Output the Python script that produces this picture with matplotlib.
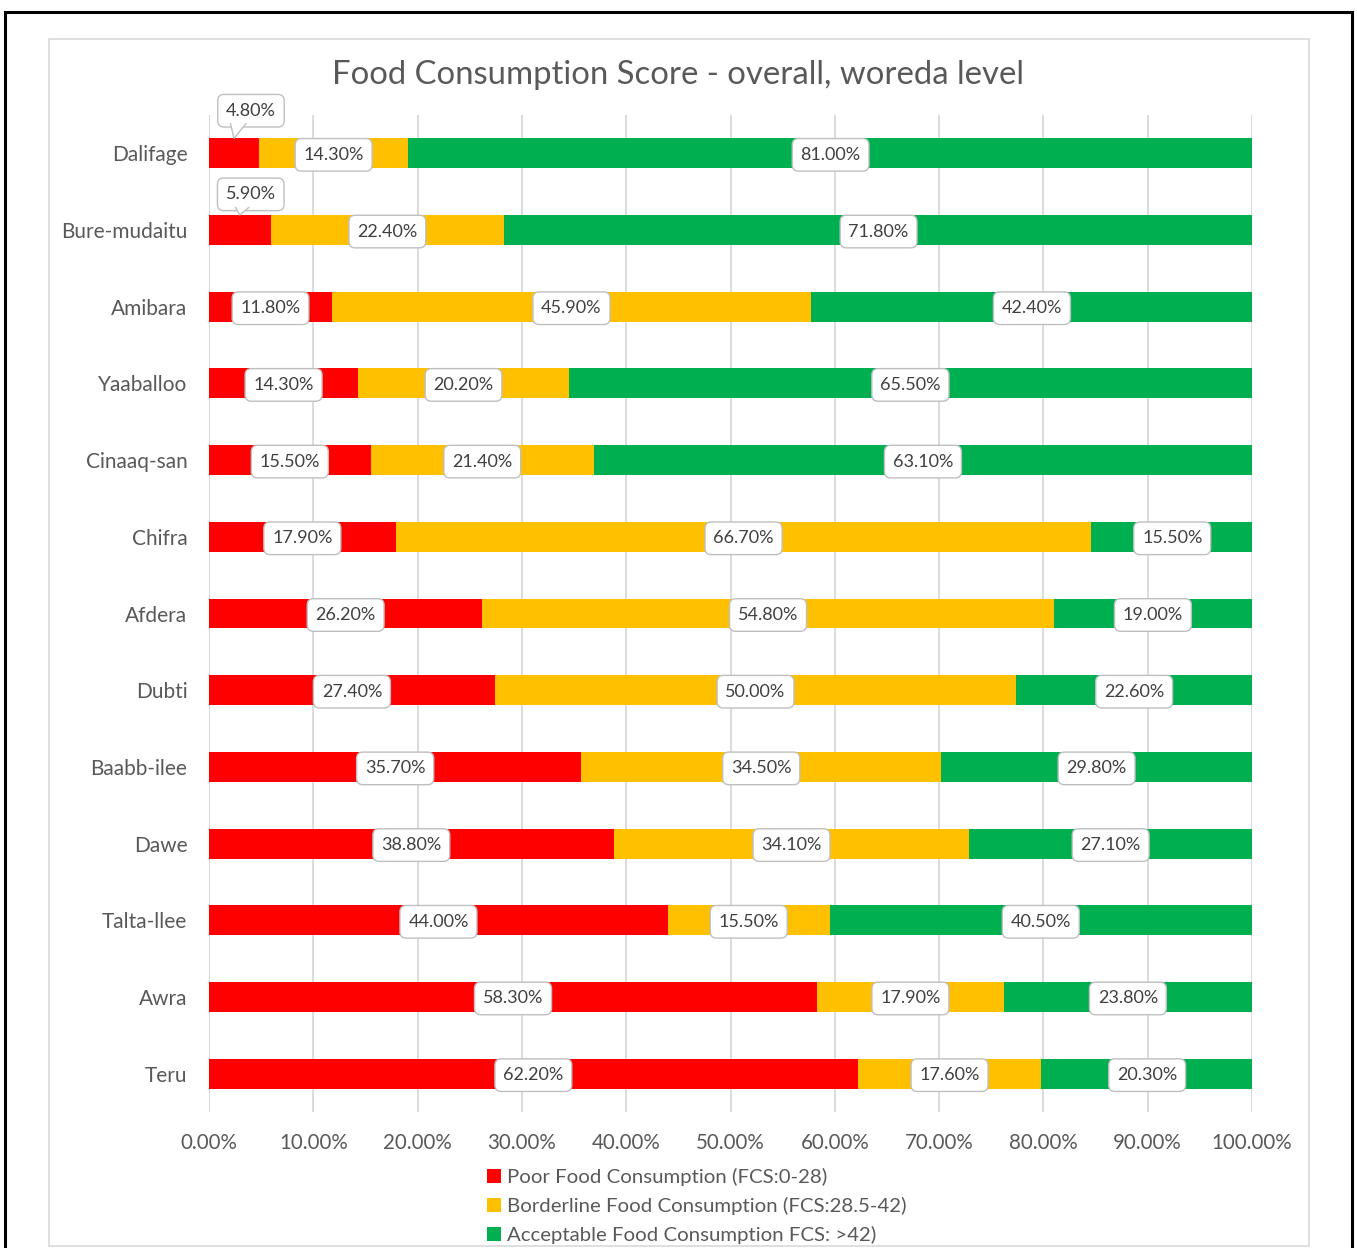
import matplotlib
matplotlib.use("Agg")
import matplotlib.pyplot as plt
from matplotlib.patches import Patch, Rectangle, Polygon
from matplotlib.lines import Line2D
from matplotlib.transforms import Affine2D, ScaledTranslation
import numpy as np

# Woredas, top to bottom
woredas = ["Dalifage", "Bure-mudaitu", "Amibara", "Yaaballoo", "Cinaaq-san",
           "Chifra", "Afdera", "Dubti", "Baabb-ilee", "Dawe", "Talta-llee",
           "Awra", "Teru"]

# Share of households (%) in each FCS group
poor = [4.8, 5.9, 11.8, 14.3, 15.5, 17.9, 26.2, 27.4, 35.7, 38.8, 44.0, 58.3, 62.2]
borderline = [14.3, 22.4, 45.9, 20.2, 21.4, 66.7, 54.8, 50.0, 34.5, 34.1, 15.5, 17.9, 17.6]
acceptable = [81.0, 71.8, 42.4, 65.5, 63.1, 15.5, 19.0, 22.6, 29.8, 27.1, 40.5, 23.8, 20.3]

series_names = ["Poor Food Consumption (FCS:0-28)",
                "Borderline Food Consumption (FCS:28.5-42)",
                "Acceptable Food Consumption FCS: >42)"]
colors = ["#FF0000", "#FFC000", "#00B050"]
xticks = [0, 10, 20, 30, 40, 50, 60, 70, 80, 90, 100]

plt.rcParams["font.family"] = ["Lato", "DejaVu Sans"]
TEXT = "#595959"
GRID = "#D9D9D9"
BOX_EDGE = "#BFBFBF"

fig = plt.figure(figsize=(13.57, 12.48), dpi=100)
ax = fig.add_axes([209 / 1357, 1 - 1112 / 1248, 1043 / 1357, 997 / 1248])

# frames around the figure and the chart area
fig.patches.append(Rectangle((5 / 1357, -0.02), 1347 / 1357, 1.0152 - 6 / 1248,
                             transform=fig.transFigure, fill=False,
                             ec="black", lw=2.2, zorder=0))
fig.patches.append(Rectangle((49 / 1357, 2 / 1248), 1260 / 1357, 1 - 41 / 1248,
                             transform=fig.transFigure, fill=False,
                             ec=GRID, lw=1.2, zorder=0))

y = np.arange(len(woredas))
h = 0.39
label_box = dict(boxstyle="round,pad=0.46,rounding_size=0.35",
                 fc="white", ec=BOX_EDGE, lw=1.0)
BOX_HALF = 10.5  # half height of a label box, in points


def points_at(x, yv):
    """Transform for vertices given in points, anchored at a data point."""
    return (Affine2D().scale(1 / 72) + fig.dpi_scale_trans
            + ScaledTranslation(x, yv, ax.transData))


def callout(x, yv, txt, off, base):
    """Label box above (x, yv) with a pointed tail down to that point."""
    ax.annotate(txt, xy=(x, yv), xytext=off, textcoords="offset points",
                ha="center", va="center_baseline", fontsize=13,
                color="#404040", bbox=label_box, zorder=4)
    by = off[1] - BOX_HALF
    tr = points_at(x, yv)
    ax.add_patch(Polygon([(0, 0), (base[0], by + 1.2), (base[1], by + 1.2)],
                         closed=True, fc="white", ec="none", transform=tr,
                         zorder=5, clip_on=False))
    ax.add_line(Line2D([base[0], 0, base[1]], [by, 0, by], color=BOX_EDGE,
                       lw=1.0, transform=tr, zorder=6, clip_on=False))


left = np.zeros(len(woredas))
for vals, col, name in zip([poor, borderline, acceptable], colors, series_names):
    vals = np.array(vals)
    ax.barh(y, vals, left=left, height=h, color=col, label=name, zorder=2)
    for i, (l, v) in enumerate(zip(left, vals)):
        cx = l + v / 2
        txt = f"{v:.2f}%"
        if v < 8:
            # narrow segment: callout above the bar
            if i == 0:
                callout(cx, i - h / 2, txt, (12.2, 21.0), (-2.5, 8.5))
            else:
                callout(cx, i - h / 2, txt, (7.9, 16.0), (-3.0, 6.5))
        else:
            ax.text(cx, i, txt, ha="center", va="center_baseline", fontsize=13,
                    color="#404040", bbox=label_box, zorder=4)
    left = left + vals

ax.set_xlim(0, 100)
ax.set_ylim(len(woredas) - 0.5, -0.5)
ax.set_yticks(y)
ax.set_yticklabels(woredas, fontsize=15, color=TEXT)
ax.set_xticks(xticks)
ax.set_xticklabels([f"{t:.2f}%" for t in xticks], fontsize=14.8, color=TEXT)
ax.tick_params(length=0, pad=15, axis="x")
ax.tick_params(length=0, pad=15.5, axis="y")
ax.grid(axis="x", color=GRID, lw=1.3, zorder=0)
ax.set_axisbelow(True)
for s in ax.spines.values():
    s.set_visible(False)
ax.axvline(0, color=GRID, lw=1.3, zorder=1)

fig.text(0.5, 1 - 75 / 1248, "Food Consumption Score - overall, woreda level",
         ha="center", va="center", fontsize=23.7, color=TEXT)

handles = [Patch(facecolor=c, edgecolor="none") for c in colors]
fig.legend(handles, series_names, loc="upper left",
           bbox_to_anchor=(487 / 1357, 1 - 1168 / 1248), frameon=False,
           fontsize=14.7, labelcolor=TEXT, handlelength=0.7, handleheight=0.7,
           handletextpad=0.3, labelspacing=0.54, borderpad=0, borderaxespad=0)

fig.savefig("out.png", dpi=100)
